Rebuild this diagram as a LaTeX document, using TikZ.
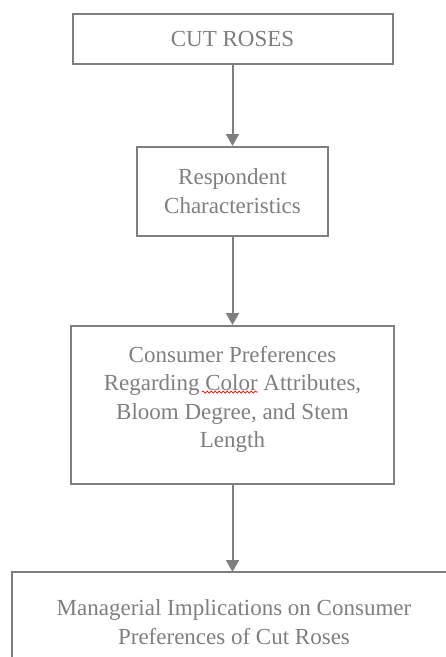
\documentclass[tikz,border=0pt]{standalone}
\usepackage{fontspec}
\setmainfont{Liberation Serif}
\usetikzlibrary{arrows.meta,decorations.pathmorphing}
\definecolor{lg}{HTML}{7F7F7F}
\definecolor{tg}{HTML}{7F7F7F}
\begin{document}
\begin{tikzpicture}[x=1pt,y=-1pt,
  boxstyle/.style={draw=lg,line width=2pt,inner sep=0pt,text=tg,align=center,
    font=\fontsize{23}{29}\selectfont},
  txt/.style={text=tg,font=\fontsize{23}{28.5}\selectfont,align=center,inner sep=0pt},
  arr/.style={draw=lg,line width=2pt,-{Triangle[width=13pt,length=12pt]}}]
\useasboundingbox (0,0) rectangle (446,657);
\node[boxstyle,minimum width=320pt,minimum height=50pt] (b1) at (232.5,39) {CUT ROSES};
\node[boxstyle,minimum width=191pt,minimum height=89pt] (b2) at (232.5,191.5) {Respondent\\Characteristics};
\node[boxstyle,minimum width=323pt,minimum height=158pt] (b3) at (232.5,405) {};
\node[txt] (t3) at (232.5,399.5) {Consumer Preferences\\Regarding Color Attributes,\\Bloom Degree, and Stem\\Length};
\begin{scope}
\clip (0,0) rectangle (446,657);
\draw[lg,line width=2pt] (12,572) rectangle (470,690);
\end{scope}
\coordinate (b4) at (232.5,572);
\node[txt] (t4) at (234,622) {Managerial Implications on Consumer\\Preferences of Cut Roses};
\draw[red,line width=0.7pt,decorate,decoration={snake,segment length=4pt,amplitude=1pt}] (202,392) -- (258,392);
\draw[arr] (b1.south) -- (b2.north);
\draw[arr] (b2.south) -- (b3.north);
\draw[arr] (b3.south) -- (b4);
\end{tikzpicture}
\end{document}
